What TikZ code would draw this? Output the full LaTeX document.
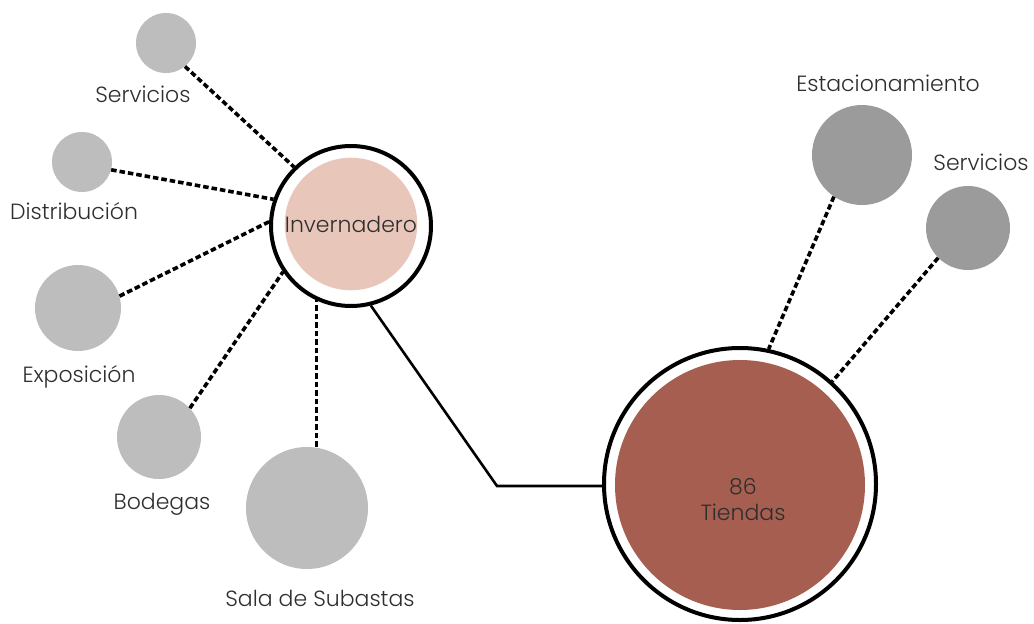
\documentclass[tikz,border=0pt]{standalone}
\usepackage{fontspec}
\setmainfont{Poppins Light}
\usepackage{tikz}

\definecolor{grisclaro}{HTML}{BDBDBD}
\definecolor{grisoscuro}{HTML}{9B9B9B}
\definecolor{rosado}{HTML}{E9C6BA}
\definecolor{ladrillo}{HTML}{A65E50}
\definecolor{texto}{HTML}{2E2E2E}

\begin{document}
\begin{tikzpicture}[x=1pt,y=-1pt,
		espacio/.style={circle,inner sep=0pt,fill=grisclaro},
		anillo/.style={circle,draw=black,line width=4pt,inner sep=0pt},
		punteada/.style={line width=3.6pt,dash pattern=on 5.5pt off 3pt},
		etiqueta/.style={text=texto,font=\fontsize{22}{26}\selectfont}]
		\useasboundingbox (0,0) rectangle (1034,624);
		% Invernadero and its spaces
		\node[anillo,minimum size=160pt] (inv) at (351,226) {};
		\node[circle,fill=rosado,inner sep=0pt,minimum size=132pt,etiqueta] (invtxt) at (351,224) {Invernadero};
		\node[espacio,minimum size=60pt] (servL) at (166,43) {};
		\node[espacio,minimum size=60pt] (dist) at (82,162) {};
		\node[espacio,minimum size=86pt] (expo) at (78,308) {};
		\node[espacio,minimum size=84pt] (bod) at (159,437) {};
		\node[espacio,minimum size=122pt] (sala) at (307,508) {};
		\node[etiqueta] (lservL) at (143,94) {Servicios};
		\node[etiqueta] (ldist) at (74,211) {Distribución};
		\node[etiqueta] (lexpo) at (79,377) {Exposición};
		\node[etiqueta] (lbod) at (162,504) {Bodegas};
		\node[etiqueta] (lsala) at (320,598) {Sala de Subastas};
		\draw[punteada] (servL.-51) -- (inv.134);
		\draw[punteada] (dist.-15) -- (inv.161);
		\draw[punteada] (expo.16) -- (inv.177);
		\draw[punteada] (bod.43) -- (inv.-146);
		\draw[punteada] (inv.-115 |- sala.north) -- (inv.-115);
		% Tiendas and its spaces
		\node[anillo,minimum size=272pt] (tiendas) at (740,484) {};
		\node[circle,fill=ladrillo,inner sep=0pt,minimum size=250pt] (tiendasin) at (740,485) {};
		\node[etiqueta,align=center] (ltiendas) at (743,500) {86\\Tiendas};
		\node[espacio,fill=grisoscuro,minimum size=100pt] (estac) at (862,155) {};
		\node[espacio,fill=grisoscuro,minimum size=84pt] (servR) at (968,228) {};
		\node[etiqueta] (lestac) at (888,83) {Estacionamiento};
		\node[etiqueta] (lservR) at (981,162) {Servicios};
		\draw[punteada] (estac.-124) -- (tiendas.78);
		\draw[punteada] (servR.-135) -- (tiendas.48);
		% link between both
		\coordinate (codo) at (497,486);
		\draw[line width=2.6pt] (inv.-76) -- (codo) -- (codo -| tiendas.west);
	\end{tikzpicture}
\end{document}
